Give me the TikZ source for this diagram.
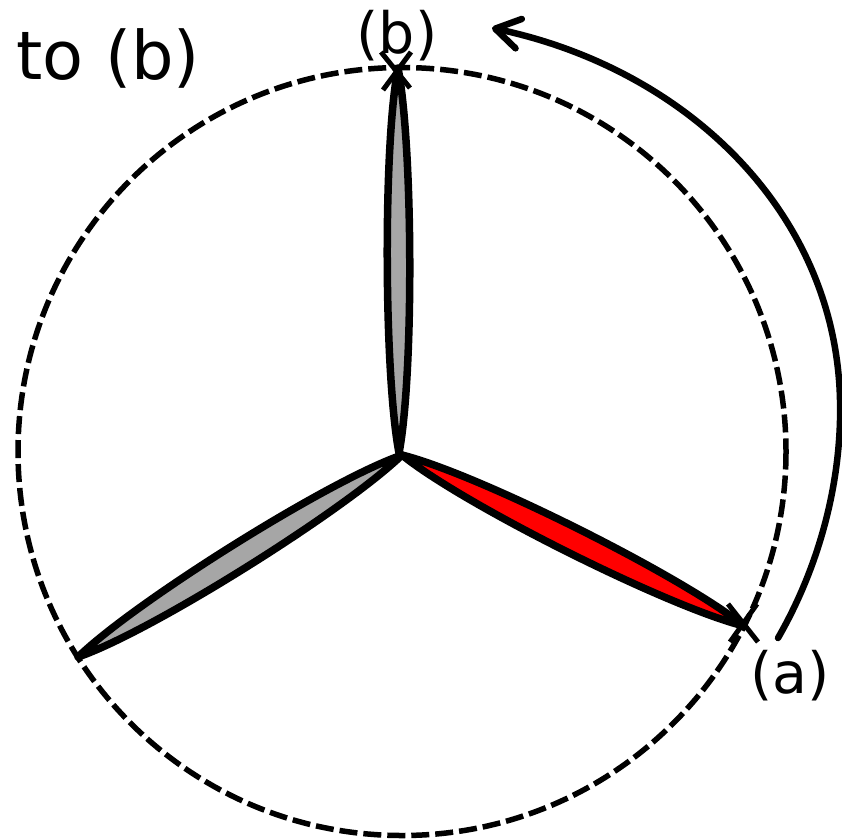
\documentclass[tikz,border=0pt]{standalone}
\usepackage{fontspec}
\setmainfont{DejaVu Sans}
\usetikzlibrary{arrows.meta}
\tikzset{
  x=1pt,y=-1pt,
  lbl/.style={inner sep=0pt,font=\fontsize{57}{57}\selectfont,text=black,anchor=base},
  blade/.style={draw=black,line width=7.5pt,line join=round},
  mark x/.style={draw=black,line width=5pt},
  orbit/.style={draw=black,line width=5.5pt,dash pattern=on 18pt off 6pt},
  sweep/.style={draw=black,line width=6.5pt,line cap=round,-{Straight Barb[length=24pt,width=30pt,line width=6.5pt,round]}}
}
\definecolor{bladegray}{RGB}{166,166,166}
\begin{document}
\begin{tikzpicture}
\useasboundingbox (0,0) rectangle (842,839);
\coordinate (hub) at (402,455);
\coordinate (hubtop) at (399,453);
\coordinate (tipb) at (398,68);
\coordinate (tipa) at (744,626);
\coordinate (tipc) at (78,657);
\draw[orbit] (402,451.5) circle[radius=384];
\draw[blade,fill=red] (hub) .. controls (477.6,473.8) and (683.6,576.8) .. (tipa) .. controls (668.4,607.2) and (462.4,504.2) .. (hub) -- cycle;
\draw[blade,fill=bladegray] (hub) .. controls (328,480.5) and (134,602.5) .. (tipc) .. controls (152,631.5) and (346,509.5) .. (hub) -- cycle;
\draw[blade,fill=bladegray] (hubtop) .. controls (384,375) and (383,145) .. (tipb) .. controls (413,145) and (414,375) .. (hubtop) -- cycle;
\draw[mark x] (383,90) -- (411,52);
\draw[mark x] (381,52) -- (410,88);
\draw[mark x] (728,604) -- (758,642);
\draw[mark x] (730,642) -- (757,604);
\node[lbl] (la) at (790,693) {(a)};
\node[lbl] (lb) at (397,53) {(b)};
\node[lbl,anchor=base west,font=\fontsize{67}{67}\selectfont] (title) at (16.5,79.5) {to (b)};
\coordinate (s) at (778,638);
\coordinate (e) at (492,28);
\draw[sweep] (s) .. controls (820,565) and (842,480) .. (840,400) .. controls (836,215) and (690,70) .. (e);
\end{tikzpicture}
\end{document}
